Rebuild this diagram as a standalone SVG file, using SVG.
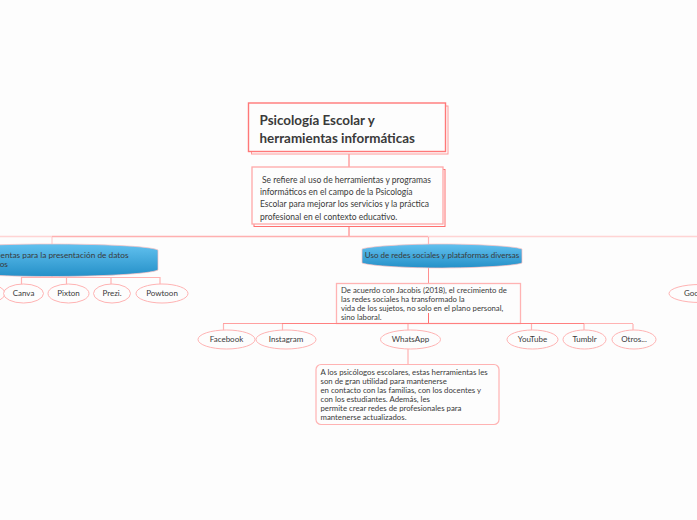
<svg xmlns="http://www.w3.org/2000/svg" width="697" height="520" viewBox="0 0 697 520">
<defs>
<linearGradient id="blue" x1="0" y1="0" x2="0" y2="1"><stop offset="0" stop-color="#62c1ef"/><stop offset="1" stop-color="#2590c8"/></linearGradient>
</defs>
<style>
text{font-family:"Lato","Open Sans",sans-serif;fill:#3a3a3a;font-size:8px}
.c{fill:none;stroke:#ffb3b3;stroke-width:1.200}
.el{fill:#fdfdfd;stroke:#ffb3b3;stroke-width:1}
.m{text-anchor:middle}
.blue{fill:url(#blue);stroke:#ffc0c0;stroke-width:.7}
.d{font-size:8.500px}
.j{font-size:7.750px}
.p{font-size:7.800px}
</style>
<rect width="697" height="520" fill="#fdfdfd"/>
<g id="connectors">
<path d="M349 152V167" stroke="#ff8a8a" stroke-width="1.200" fill="none"/>
<path d="M349 226V237" stroke="#ff7070" stroke-width="1" fill="none"/>
<path d="M0 236.500H52M428 236.500H697" stroke="#ffd4d4" stroke-width="1.500" fill="none"/>
<path d="M52 236.500H428" stroke="#ffb0b0" stroke-width="1.500" fill="none"/>
<path d="M52 237V245" stroke="#ffc4c4" fill="none"/>
<path d="M428.500 237V245" class="c"/>
<path d="M428.500 267V283" stroke="#ff9090" fill="none"/>
<path d="M52 276V278" stroke="#ff8080" fill="none"/>
<path d="M21.500 277V284M66.500 277V284M111 277V284M160 277V284M21.500 277.500H160" class="c"/>
</g>
<g id="n-root">
<rect x="251.500" y="106" width="196.500" height="48" fill="#fdfdfd" stroke="#ff9a9a"/>
<rect x="248.500" y="103" width="197" height="48.500" fill="#fdfdfd" stroke="#ff7878" stroke-width="1.400"/>
<text x="259.500" y="125" style="font-size:13.400px;font-weight:700">Psicología Escolar y</text>
<text x="259.500" y="143" style="font-size:13.400px;font-weight:700">herramientas informáticas</text>
</g>
<g id="n-desc">
<rect x="254" y="169.500" width="191" height="57" fill="#fdfdfd" stroke="#ff7070"/>
<rect x="252" y="167" width="191" height="57" fill="#fdfdfd" stroke="#ffa8a8" stroke-width="1.300"/>
<text x="262" y="183" class="d">Se refiere al uso de herramientas y programas</text>
<text x="260" y="195" class="d">informáticos en el campo de la Psicología</text>
<text x="260" y="207" class="d">Escolar para mejorar los servicios y la práctica</text>
<text x="260" y="220" class="d">profesional en el contexto educativo.</text>
</g>
<g id="n-presentacion">
<path d="M-60 250C-40 246 0 244 50 244S150 246 158 250V270C150 274 100 276.500 50 276.500S-40 274-60 270Z" class="blue"/>
<text x="-29" y="258" style="font-size:8.300px">Herramientas para la presentación de datos</text>
<text x="-29" y="267" style="font-size:8.300px">científicos</text>
</g>
<g id="n-redes">
<path d="M362 249C370 246 410 244 442 244S514 246 522 249V263C514 266 474 268 442 268S370 266 362 263Z" class="blue"/>
<text x="442" y="258" class="m">Uso de redes sociales y plataformas diversas</text>
</g>
<g id="n-jacobis">
<rect x="336.500" y="283.500" width="184" height="40" fill="#fdfdfd" stroke="#ffb3b3" stroke-width="1.300"/>
<text x="341" y="293" class="j">De acuerdo con Jacobis (2018), el crecimiento de</text>
<text x="341" y="302" class="j">las redes sociales ha transformado la</text>
<text x="341" y="311" class="j">vida de los sujetos, no solo en el plano personal,</text>
<text x="341" y="320" class="j">sino laboral.</text>
</g>
<g id="connectors-2">
<path d="M428.500 313V323" stroke="#ff7070" fill="none"/>
<path d="M223 323.500H282" stroke="#ffa0a0" fill="none"/>
<path d="M282 323.500H584" stroke="#ff8080" fill="none"/>
<path d="M584 323.500H633" stroke="#ffb3b3" fill="none"/>
<path d="M223.500 324V331M282.500 324V331M408 324V331M531.500 324V331M584 324V331M633 324V331M408 349V365" class="c"/>
</g>
<g id="n-partial"><ellipse cx="-14" cy="293.500" rx="19" ry="9.500" class="el"/></g>
<g id="n-canva"><ellipse cx="23.500" cy="293.500" rx="20" ry="9.500" class="el"/><text x="23.500" y="296" class="m">Canva</text></g>
<g id="n-pixton"><ellipse cx="68.500" cy="293.500" rx="20.500" ry="9.500" class="el"/><text x="68.500" y="296" class="m">Pixton</text></g>
<g id="n-prezi"><ellipse cx="112" cy="293.500" rx="18.500" ry="9.500" class="el"/><text x="112" y="296" class="m">Prezi.</text></g>
<g id="n-powtoon"><ellipse cx="162" cy="293.500" rx="26" ry="9.500" class="el"/><text x="162" y="296" class="m">Powtoon</text></g>
<g id="n-facebook"><ellipse cx="226.500" cy="339.500" rx="28.500" ry="9.500" class="el"/><text x="226.500" y="342" class="m">Facebook</text></g>
<g id="n-instagram"><ellipse cx="286" cy="339.500" rx="30" ry="9.500" class="el"/><text x="286" y="342" class="m">Instagram</text></g>
<g id="n-whatsapp"><ellipse cx="410.500" cy="339.500" rx="30" ry="9.500" class="el"/><text x="410.500" y="342" class="m">WhatsApp</text></g>
<g id="n-youtube"><ellipse cx="532.500" cy="339.500" rx="25.500" ry="9.500" class="el"/><text x="532.500" y="342" class="m">YouTube</text></g>
<g id="n-tumblr"><ellipse cx="584.500" cy="339.500" rx="21.500" ry="9.500" class="el"/><text x="584.500" y="342" class="m">Tumblr</text></g>
<g id="n-otros"><ellipse cx="634" cy="339.500" rx="22" ry="9.500" class="el"/><text x="634" y="342" class="m">Otros...</text></g>
<g id="n-google"><ellipse cx="700" cy="293.500" rx="31" ry="9" class="el"/><text x="684" y="296">Google</text></g>
<g id="n-psicologos">
<rect x="316" y="364.500" width="183" height="60" rx="5" fill="#fdfdfd" stroke="#ffb3b3" stroke-width="1.200"/>
<text x="320.500" y="375" class="p">A los psicólogos escolares, estas herramientas les</text>
<text x="320.500" y="384" class="p">son de gran utilidad para mantenerse</text>
<text x="320.500" y="393" class="p">en contacto con las familias, con los docentes y</text>
<text x="320.500" y="402" class="p">con los estudiantes. Además, les</text>
<text x="320.500" y="411" class="p">permite crear redes de profesionales para</text>
<text x="320.500" y="420" class="p">mantenerse actualizados.</text>
</g>
</svg>
